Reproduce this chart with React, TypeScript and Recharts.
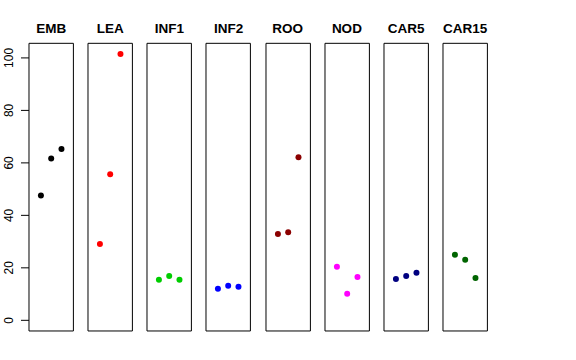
import React from 'react';
import { ScatterChart, Scatter, XAxis, YAxis, ReferenceArea } from 'recharts';

const categories = ['EMB', 'LEA', 'INF1', 'INF2', 'ROO', 'NOD', 'CAR5', 'CAR15'];
const colors = ['#000000', '#FF0000', '#00CD00', '#0000FF', '#8B0000', '#FF00FF', '#000080', '#006400'];
const replicates = [1, 2, 3];

const embValues = [47.6, 61.7, 65.3];
const leaValues = [29.1, 55.7, 101.5];
const inf1Values = [15.5, 16.9, 15.5];
const inf2Values = [12.0, 13.2, 12.8];
const rooValues = [32.9, 33.6, 62.1];
const nodValues = [20.4, 10.1, 16.5];
const car5Values = [15.7, 16.9, 18.1];
const car15Values = [25.0, 23.1, 16.1];

const allValues = [embValues, leaValues, inf1Values, inf2Values, rooValues, nodValues, car5Values, car15Values];
const yTicks = [0, 20, 40, 60, 80, 100];

const Y_DOMAIN: [number, number] = [-4.06, 105.56];
const X_DOMAIN: [number, number] = [-0.16, 4.16];

const W = 576;
const H = 360;
const PLOT_TOP = 43.3;
const PLOT_BOTTOM = 29;
const AXIS_W = 29;
const PANEL_W = 44.4;
const STEP = 59.14;
const PAD = 3;
const FONT = '"Liberation Sans", Arial, Helvetica, sans-serif';

function Tick(props: any) {
  const { x, y, payload } = props;
  const bx = x - 5.5;
  return (
    <text x={bx} y={y} transform={`rotate(-90, ${bx}, ${y})`} textAnchor="middle" fontSize={12} fill="#000" fontFamily={FONT}>
      {payload.value}
    </text>
  );
}

function Panel({ i }: { i: number }) {
  const data = replicates.map((r, k) => ({ x: r, y: allValues[i][k] }));
  const first = i === 0;
  const panelLeft = AXIS_W + STEP * i;
  const left = first ? 0 : panelLeft - PAD;
  const width = first ? AXIS_W + PANEL_W + PAD : PANEL_W + 2 * PAD;
  const color = colors[i];
  return (
    <div style={{ position: 'absolute', left, top: 0 }}>
      <ScatterChart width={width} height={H} margin={{ top: PLOT_TOP, bottom: PLOT_BOTTOM, left: first ? 0 : PAD, right: PAD }}>
        <XAxis type="number" dataKey="x" domain={X_DOMAIN} allowDataOverflow hide />
        <YAxis
          type="number"
          dataKey="y"
          domain={Y_DOMAIN}
          allowDataOverflow
          ticks={yTicks}
          interval={0}
          hide={!first}
          width={AXIS_W}
          axisLine={false}
          tickLine={{ stroke: '#000' }}
          tickSize={8}
          tick={<Tick />}
        />
        <ReferenceArea
          x1={X_DOMAIN[0]}
          x2={X_DOMAIN[1]}
          y1={Y_DOMAIN[0]}
          y2={Y_DOMAIN[1]}
          fill="none"
          fillOpacity={0}
          stroke="#000"
          strokeWidth={1}
          strokeOpacity={1}
          ifOverflow="visible"
        />
        <Scatter
          data={data}
          fill={color}
          isAnimationActive={false}
          shape={(p: any) => <circle cx={p.cx} cy={p.cy} r={3} fill={color} />}
        />
      </ScatterChart>
      <div
        style={{
          position: 'absolute',
          left: first ? AXIS_W - 20 : PAD - 20,
          width: PANEL_W + 40,
          top: 22.2,
          textAlign: 'center',
          fontFamily: FONT,
          fontWeight: 'bold',
          fontSize: 13.5,
          lineHeight: 1,
          color: '#000',
        }}
      >
        {categories[i]}
      </div>
    </div>
  );
}

export default function App() {
  return (
    <div style={{ position: 'absolute', left: 0, top: 0, width: W, height: H, background: '#fff', overflow: 'hidden' }}>
      {categories.map((c, i) => (
        <Panel key={c} i={i} />
      ))}
    </div>
  );
}
